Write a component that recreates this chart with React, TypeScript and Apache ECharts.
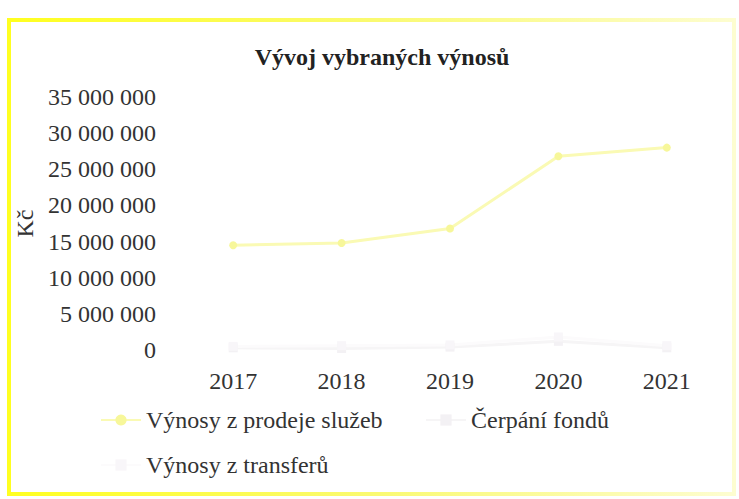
import React, { useEffect, useRef } from "react";
import * as echarts from "echarts";

const years = ["2017", "2018", "2019", "2020", "2021"];
const sluzby = [14500000, 14800000, 16800000, 26800000, 28000000];
const fondy = [300000, 200000, 400000, 1200000, 300000];
const transfery = [500000, 600000, 700000, 1800000, 600000];
const yTicks = [0, 5000000, 10000000, 15000000, 20000000, 25000000, 30000000, 35000000];

const FONT = "'Liberation Serif', 'DejaVu Serif', serif";

function fmt(v: number): string {
  return String(Math.round(v)).replace(/\B(?=(\d{3})+(?!\d))/g, " ");
}

export default function App() {
  const ref = useRef<HTMLDivElement>(null);
  useEffect(() => {
    if (!ref.current) return;
    const chart = echarts.init(ref.current, null, { renderer: "svg" });
    const textStyle = { fontFamily: FONT, fontSize: 24, color: "#333" };
    chart.setOption({
      animation: false,
      backgroundColor: "#ffffff",
      textStyle: { fontFamily: FONT },
      title: {
        text: "Vývoj vybraných výnosů",
        left: 377,
        top: 40,
        textAlign: "center",
        textStyle: { fontFamily: FONT, fontSize: 24, fontWeight: "bold", color: "#222" },
      },
      graphic: [
        {
          type: "rect",
          shape: { x: 9, y: 20, width: 725, height: 474 },
          style: {
            fill: "none",
            stroke: new echarts.graphic.LinearGradient(0, 0, 1, 0, [
              { offset: 0, color: "#ffff20" },
              { offset: 0.5, color: "#fafa70" },
              { offset: 1, color: "#fdfdd0" },
            ]),
            lineWidth: 4,
          },
          silent: true,
          z: 0,
        },
      ],
      legend: [
        {
          data: ["Výnosy z prodeje služeb"],
          left: 100,
          top: 408,
          padding: 0,
          itemWidth: 40,
          itemHeight: 14,
          itemGap: 5,
          textStyle: { ...textStyle },
        },
        {
          data: ["Čerpání fondů"],
          left: 425,
          top: 408,
          padding: 0,
          itemWidth: 40,
          itemHeight: 14,
          textStyle: { ...textStyle },
        },
        {
          data: ["Výnosy z transferů"],
          left: 100,
          top: 453,
          padding: 0,
          itemWidth: 40,
          itemHeight: 14,
          textStyle: { ...textStyle },
        },
      ],
      grid: { left: 179, right: 18, top: 97, bottom: 149, containLabel: false },
      xAxis: {
        type: "category",
        data: years,
        boundaryGap: true,
        axisLine: { show: false },
        axisTick: { show: false },
        axisLabel: { ...textStyle, margin: 19 },
      },
      yAxis: {
        type: "value",
        min: 0,
        max: 35000000,
        interval: 5000000,
        name: "Kč",
        nameLocation: "middle",
        nameGap: 138,
        nameRotate: 90,
        nameTextStyle: { ...textStyle },
        axisLine: { show: false },
        axisTick: { show: false },
        splitLine: { show: false },
        axisLabel: {
          ...textStyle,
          margin: 23,
          formatter: (v: number) => (yTicks.includes(v) ? fmt(v) : ""),
        },
      },
      series: [
        {
          name: "Výnosy z prodeje služeb",
          type: "line",
          data: sluzby,
          symbol: "circle",
          symbolSize: 8,
          lineStyle: { color: "#fafab4", width: 3 },
          itemStyle: { color: "#f7f79a" },
          z: 3,
        },
        {
          name: "Čerpání fondů",
          type: "line",
          data: fondy,
          symbol: "rect",
          symbolSize: 9,
          lineStyle: { color: "#f6f5f6", width: 3 },
          itemStyle: { color: "#f3f1f4" },
          z: 2,
        },
        {
          name: "Výnosy z transferů",
          type: "line",
          data: transfery,
          symbol: "rect",
          symbolSize: 9,
          lineStyle: { color: "#fcfbfc", width: 3 },
          itemStyle: { color: "#f8f6f9" },
          z: 2,
        },
      ],
    });
    return () => chart.dispose();
  }, []);
  return (
    <div
      ref={ref}
      style={{ position: "fixed", left: 0, top: 0, width: 739, height: 499 }}
    />
  );
}
